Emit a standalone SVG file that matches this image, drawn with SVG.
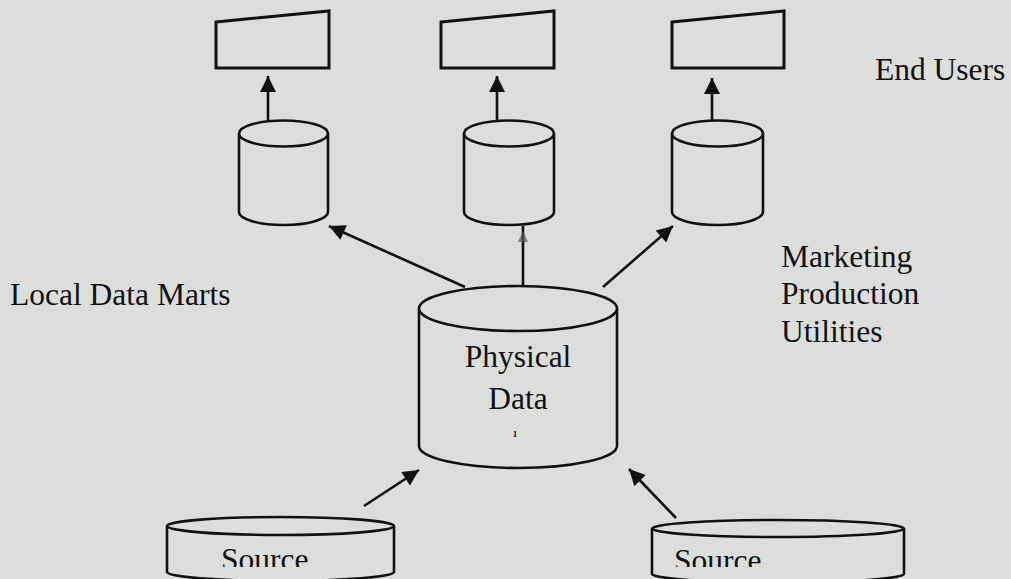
<svg xmlns="http://www.w3.org/2000/svg" width="1011" height="579" viewBox="0 0 1011 579">
  <style>
    .bg { fill: #dcdedc; }
    .shape { fill: #dcdedc; stroke: #111; stroke-width: 2.6; stroke-linejoin: round; }
    .screen { fill: #dcdedc; stroke: #111; stroke-width: 3; stroke-linejoin: miter; }
    .link { fill: none; stroke: #111; stroke-width: 2.6; }
    .lbl { font-family: "Liberation Serif", "DejaVu Serif", serif; font-size: 31.5px; fill: #111; }
  </style>
  <defs>
    <marker id="head" viewBox="0 0 10 10" refX="10" refY="5" markerWidth="18" markerHeight="16" markerUnits="userSpaceOnUse" orient="auto">
      <path d="M0,0 L10,5 L0,10 z" fill="#111"/>
    </marker>
    <clipPath id="cut-bottom">
      <rect x="0" y="0" width="1011" height="567"/>
    </clipPath>
  </defs>

  <rect class="bg" x="0" y="0" width="1011" height="579"/>

  <!-- end-user terminals -->
  <g id="terminal-1">
    <path class="screen" d="M216,22 L329,11 L329,68 L216,68 Z"/>
  </g>
  <g id="terminal-2">
    <path class="screen" d="M441,22 L554,11 L554,68 L441,68 Z"/>
  </g>
  <g id="terminal-3">
    <path class="screen" d="M672,22 L784,11 L784,68 L672,68 Z"/>
  </g>

  <!-- local data marts -->
  <g id="mart-1">
    <path class="shape" d="M239,133.5 V212 A44.5,13 0 0 0 328,212 V133.5"/>
    <ellipse class="shape" cx="283.5" cy="133.5" rx="44.5" ry="13"/>
  </g>
  <g id="mart-2">
    <path class="shape" d="M464,133.5 V212 A45,13 0 0 0 554,212 V133.5"/>
    <ellipse class="shape" cx="509" cy="133.5" rx="45" ry="13"/>
  </g>
  <g id="mart-3">
    <path class="shape" d="M672,133.5 V212 A45.5,13 0 0 0 763,212 V133.5"/>
    <ellipse class="shape" cx="717.5" cy="133.5" rx="45.5" ry="13"/>
  </g>

  <!-- central physical store -->
  <g id="physical-data">
    <path class="shape" d="M419,308.5 V446 A99,22 0 0 0 617,446 V308.5"/>
    <ellipse class="shape" cx="518" cy="308.5" rx="99" ry="22.5"/>
    <text class="lbl" x="518" y="367" text-anchor="middle">Physical</text>
    <text class="lbl" x="518" y="409" text-anchor="middle">Data</text>
    <text class="lbl" x="515" y="437" text-anchor="middle" style="font-size:9px;font-weight:bold">1</text>
  </g>

  <!-- source systems -->
  <g id="source-1">
    <path class="shape" d="M167,526 V572 A113.5,9 0 0 0 394,572 V526"/>
    <ellipse class="shape" cx="280.5" cy="526" rx="113.5" ry="9"/>
    <text class="lbl" x="221" y="570" clip-path="url(#cut-bottom)">Source</text>
  </g>
  <g id="source-2">
    <path class="shape" d="M652,528.5 V574 A126,8.5 0 0 0 904,574 V528.5"/>
    <ellipse class="shape" cx="778" cy="528.5" rx="126" ry="8.5"/>
    <text class="lbl" x="674" y="571" clip-path="url(#cut-bottom)">Source</text>
  </g>

  <!-- free-standing labels -->
  <g id="label-end-users">
    <text class="lbl" x="875" y="80">End Users</text>
  </g>
  <g id="label-local-marts">
    <text class="lbl" x="10" y="305">Local Data Marts</text>
  </g>
  <g id="label-departments">
    <text class="lbl" x="781" y="267">Marketing</text>
    <text class="lbl" x="781" y="304">Production</text>
    <text class="lbl" x="781" y="342">Utilities</text>
  </g>

  <!-- connectors -->
  <g id="connectors">
    <line class="link" x1="268" y1="120" x2="268" y2="76" marker-end="url(#head)"/>
    <line class="link" x1="497" y1="120" x2="497" y2="76" marker-end="url(#head)"/>
    <line class="link" x1="712" y1="120" x2="712" y2="78" marker-end="url(#head)"/>

    <line class="link" x1="465" y1="287" x2="329" y2="226" marker-end="url(#head)"/>
    <line class="link" x1="523" y1="286" x2="523" y2="226"/>
    <path d="M523,231 L528,242 L518,242 Z" fill="#555" opacity="0.7"/>
    <line class="link" x1="603" y1="287" x2="673" y2="226" marker-end="url(#head)"/>

    <line class="link" x1="364" y1="506" x2="419" y2="470" marker-end="url(#head)"/>
    <line class="link" x1="676" y1="518" x2="629" y2="469" marker-end="url(#head)"/>
  </g>
</svg>
